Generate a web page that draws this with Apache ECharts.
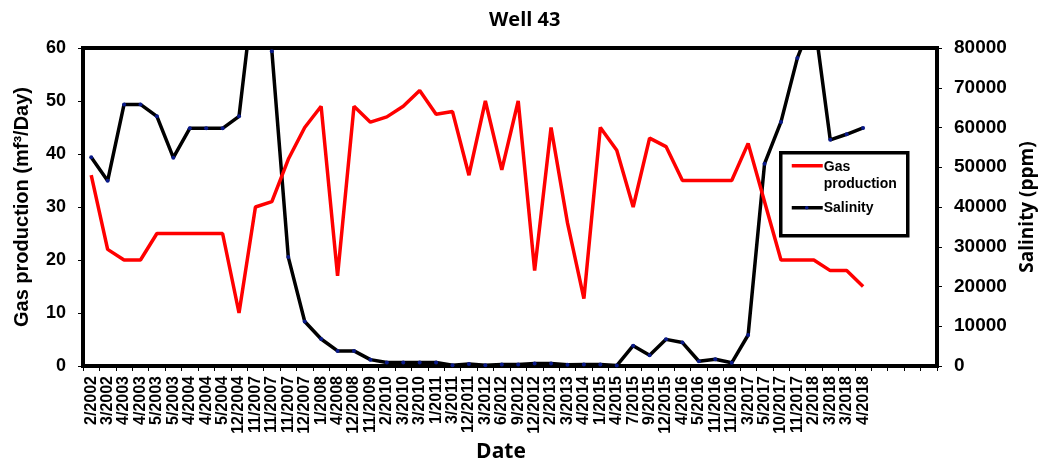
<!DOCTYPE html>
<html>
<head>
<meta charset="utf-8">
<script src="https://cdn.jsdelivr.net/npm/echarts@6/dist/echarts.min.js"></script>
<style>
html,body{margin:0;padding:0;background:#fff;}
#c{width:1039px;height:459px;}
</style>
</head>
<body>
<div id="c"></div>
<script>
const categories = ['2/2002','3/2002','4/2003','4/2003','5/2003','5/2003','4/2004','4/2004','5/2004','12/2004',
  '11/2007','11/2007','11/2007','12/2007','1/2008','4/2008','12/2008','11/2009','2/2010','3/2010',
  '3/2010','1/2011','3/2011','12/2011','3/2012','6/2012','9/2012','12/2012','2/2013','3/2013',
  '4/2014','1/2015','4/2015','7/2015','9/2015','12/2015','4/2016','5/2016','11/2016','11/2016',
  '3/2017','5/2017','10/2017','11/2017','2/2018','3/2018','3/2018','4/2018','','','',''];
const gasProduction = [36,22,20,20,25,25,25,25,25,10,
  30,31,39,45,49,17,49,46,47,49,
  52,47.5,48,36,50,37,50,18,45,27,
  12.7,45,40.7,30,43,41.4,35,35,35,35,
  42,31,20,20,20,18,18,15];
const salinity = [52500,46600,65800,65800,62800,52400,59800,59800,59800,62800,
  98000,79200,27400,11200,6800,3800,3800,1600,900,900,
  900,900,200,500,200,400,400,600,600,300,
  400,400,100,5100,2700,6700,5900,1200,1700,800,
  7800,50900,61400,77500,88000,56900,58300,59900];
const gasTicks = [0,10,20,30,40,50,60];
const salinityTicks = [0,10000,20000,30000,40000,50000,60000,70000,80000];
const legendNames = ['Gas', 'production', 'Salinity'];

const chart = echarts.init(document.getElementById('c'));
const bold = {fontFamily:'Liberation Sans', fontWeight:'bold', color:'#000'};
const legFont = 'bold 14px "Liberation Sans"';
chart.setOption({
  animation:false,
  title:{text:'Well 43', left:484, top:5,
    textStyle:{fontFamily:'Open Sans', fontWeight:'bold', fontSize:20, color:'#000'}},
  grid:{left:83, right:102, top:48, bottom:93, containLabel:false, outerBoundsMode:'none',
    show:true, borderColor:'#000', borderWidth:4, backgroundColor:'#fff'},
  xAxis:{
    type:'category', data:categories, boundaryGap:true,
    name:'Date', nameLocation:'middle', nameGap:76,
    nameTextStyle:{fontFamily:'Open Sans', fontWeight:'bold', fontSize:21, color:'#000', padding:[0,18,0,0]},
    axisLine:{lineStyle:{color:'#000', width:4}},
    axisTick:{show:true, interval:0, length:5, lineStyle:{color:'#000'}},
    axisLabel:Object.assign({interval:0, rotate:90, fontSize:16, margin:10}, bold),
    splitLine:{show:false}
  },
  yAxis:[{
    type:'value', min:gasTicks[0], max:gasTicks[gasTicks.length-1], interval:10,
    name:'Gas production (mf³/Day)', nameLocation:'middle', nameGap:51,
    nameTextStyle:{fontFamily:'Liberation Sans', fontWeight:'bold', fontSize:20, color:'#000'},
    axisLine:{show:true, lineStyle:{color:'#000', width:4}},
    axisTick:{show:true, length:5, lineStyle:{color:'#000'}},
    axisLabel:Object.assign({fontSize:18, margin:17}, bold),
    splitLine:{show:false}
  },{
    type:'value', min:salinityTicks[0], max:salinityTicks[salinityTicks.length-1], interval:10000,
    name:'Salinity (ppm)', nameLocation:'middle', nameGap:80,
    nameTextStyle:{fontFamily:'Open Sans', fontWeight:'bold', fontSize:19, color:'#000'},
    axisLine:{show:true, lineStyle:{color:'#000', width:4}},
    axisTick:{show:true, length:5, lineStyle:{color:'#000'}},
    axisLabel:Object.assign({fontSize:19, margin:17, formatter:function(v){return String(v);}}, bold),
    splitLine:{show:false}
  }],
  graphic:[{
    type:'group', left:779, top:151, z:100,
    children:[
      {type:'rect', shape:{x:0, y:0, width:127, height:83}, style:{fill:'#fff', stroke:'#000', lineWidth:3.5}},
      {type:'line', shape:{x1:11, y1:13, x2:42, y2:13}, style:{stroke:'#ff0000', lineWidth:3.5}},
      {type:'text', x:43, y:14, style:{text:legendNames[0], font:legFont, fill:'#000', verticalAlign:'middle'}},
      {type:'text', x:43, y:31, style:{text:legendNames[1], font:legFont, fill:'#000', verticalAlign:'middle'}},
      {type:'line', shape:{x1:11, y1:55, x2:42, y2:55}, style:{stroke:'#000', lineWidth:3.5}},
      {type:'circle', shape:{cx:26, cy:55, r:1.8}, style:{fill:'#0a1a8a'}},
      {type:'text', x:43, y:55, style:{text:legendNames[2], font:legFont, fill:'#000', verticalAlign:'middle'}}
    ]
  }],
  series:[{
    name:'Gas production', type:'line', yAxisIndex:0, data:gasProduction,
    showSymbol:false, symbol:'none', lineStyle:{color:'#ff0000', width:3.5}, itemStyle:{color:'#ff0000'}, z:3
  },{
    name:'Salinity', type:'line', yAxisIndex:1, data:salinity, clip:true,
    symbol:'circle', symbolSize:4, showSymbol:true,
    lineStyle:{color:'#000', width:3.5}, itemStyle:{color:'#0a1a8a', borderWidth:0}, z:2
  }]
});
</script>
</body>
</html>
